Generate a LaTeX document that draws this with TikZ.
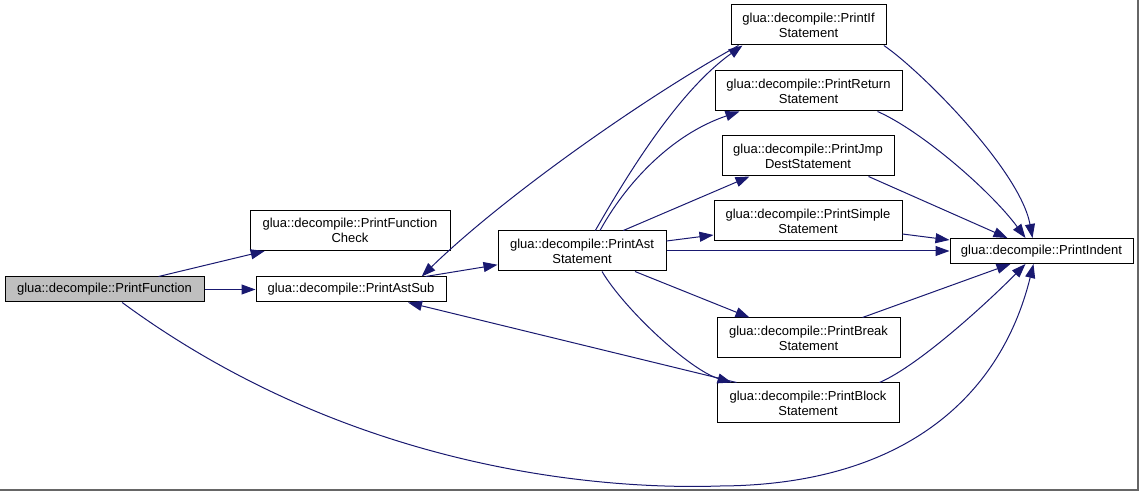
\documentclass[tikz,border=0pt]{standalone}
\usepackage{fontspec}
\newfontfamily\dxfont{Liberation Sans}
\usepackage{tikz}
\usetikzlibrary{arrows.meta,positioning}

\definecolor{edgeblue}{RGB}{25,25,112}
\definecolor{boxgray}{RGB}{191,191,191}

\tikzset{
  fnbox/.style={draw=black, line width=0.75pt, fill=white, inner sep=0pt,
    align=center, minimum height=30pt,
    font=\dxfont\fontsize{9.75}{11.25}\selectfont},
  oneline/.style={minimum height=18.75pt},
  callarrow/.style={draw=edgeblue, line width=0.75pt,
    -{Triangle[length=10.5pt,width=7.5pt]}}
}

\begin{document}
\begin{tikzpicture}[x=0.75pt,y=-0.75pt]
\useasboundingbox (0,0) rectangle (1139,491);
\draw [black!60, line width=1.2pt] (0,490) -- (1138,490) -- (1138,0);
% left column
\node [fnbox,oneline,fill=boxgray,minimum width=149.25pt] (PF) at (104.5,289.5) {glua::decompile::PrintFunction};
\node [fnbox,minimum width=150pt] (PFC) at (350,230.5) {glua::decompile::PrintFunction\\Check};
\node [fnbox,oneline,minimum width=142.5pt] (PAS) at (351,289.5) {glua::decompile::PrintAstSub};
\node [fnbox,minimum width=126pt] (PAST) at (582,251) {glua::decompile::PrintAst\\Statement};
% statement column
\node [fnbox,minimum width=116.25pt] (PIF) at (808.5,25) {glua::decompile::PrintIf\\Statement};
\node [fnbox,minimum width=140.25pt] (PRET) at (808.5,91) {glua::decompile::PrintReturn\\Statement};
\node [fnbox,minimum width=129pt] (PJMP) at (808,156) {glua::decompile::PrintJmp\\DestStatement};
\node [fnbox,minimum width=141pt] (PSIM) at (808,221) {glua::decompile::PrintSimple\\Statement};
\node [fnbox,minimum width=137.25pt] (PBRK) at (808.5,338) {glua::decompile::PrintBreak\\Statement};
\node [fnbox,minimum width=136.5pt] (PBLK) at (808,403) {glua::decompile::PrintBlock\\Statement};
\node [fnbox,oneline,minimum width=137.25pt] (PIND) at (1041.5,251) {glua::decompile::PrintIndent};
% calls
\draw [callarrow] (PF) -- (PFC);
\draw [callarrow] (PF) -- (PAS);
\draw [callarrow] (PF) .. controls (350,470) and (600,490) .. (720,486)
  .. controls (900,485) and (1000,400) .. ([xshift=-6pt]PIND.south);
\draw [callarrow] ([xshift=56pt]PAS.north) -- (PAST);
\draw [callarrow] ([xshift=6pt]PIF.south west) .. controls (640,100) and (500,200) .. ([xshift=53pt]PAS.north);
\draw [callarrow] ([xshift=10pt]PAST.north) .. controls (630,170) and (680,90) .. ([xshift=9pt]PIF.south west);
\draw [callarrow] ([xshift=13.5pt]PAST.north) .. controls (625,185) and (670,135) .. ([xshift=18.75pt]PRET.south west);
\draw [callarrow] ([xshift=31pt]PAST.north) -- ([xshift=21pt]PJMP.south west);
\draw [callarrow] ([yshift=7.5pt]PAST.east) -- ([yshift=-10.5pt]PSIM.west);
\draw [callarrow] (PAST) -- (PIND);
\draw [callarrow] ([xshift=39.75pt]PAST.south) -- ([xshift=24.75pt]PBRK.north west);
\draw [callarrow] ([xshift=15pt]PAST.south) .. controls (625,310) and (690,370) .. ([xshift=11.25pt]PBLK.north west);
\draw [callarrow] ([xshift=15pt]PBLK.north west) -- ([xshift=42.75pt]PAS.south);
\draw [callarrow] ([xshift=-2pt]PIF.south east) .. controls (920,70) and (1020,170) .. ([xshift=-6.75pt]PIND.north);
\draw [callarrow] ([xshift=-18.75pt]PRET.south east) .. controls (920,130) and (990,190) .. ([xshift=-12pt]PIND.north);
\draw [callarrow] ([xshift=-19.5pt]PJMP.south east) -- ([xshift=-25.5pt]PIND.north);
\draw [callarrow] ([yshift=-9.75pt]PSIM.east) -- ([yshift=8.25pt]PIND.west);
\draw [callarrow] ([xshift=-28.5pt]PBRK.north east) -- ([xshift=-23.25pt]PIND.south);
\draw [callarrow] ([xshift=-15pt]PBLK.north east) .. controls (920,365) and (990,300) .. ([xshift=-12pt]PIND.south);
\end{tikzpicture}
\end{document}
